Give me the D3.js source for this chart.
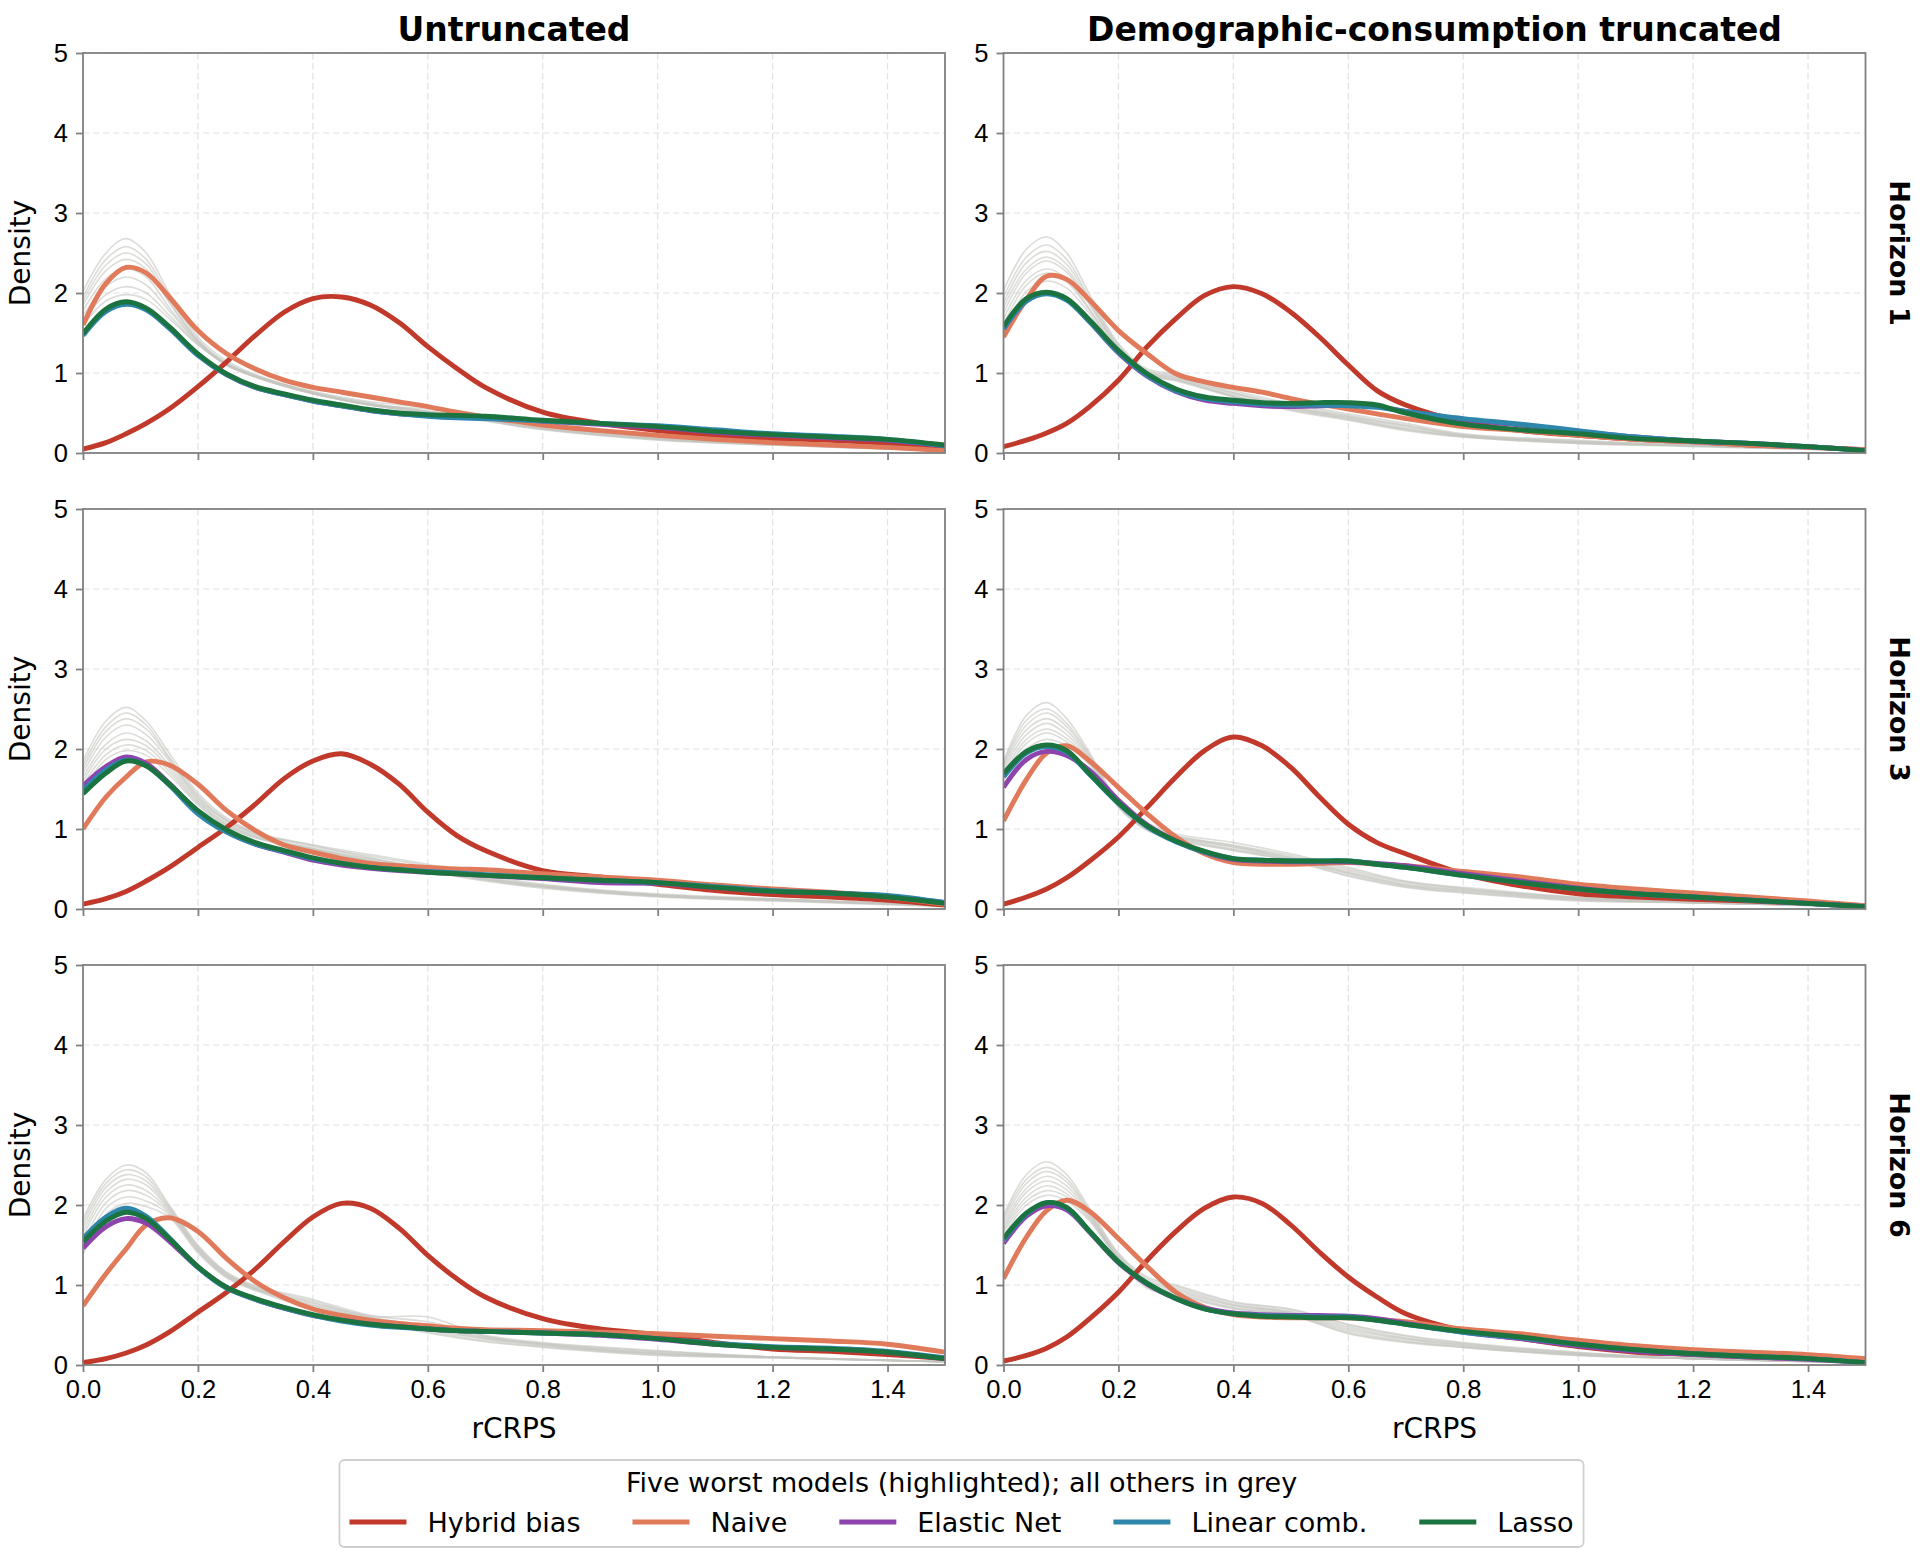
<!DOCTYPE html>
<html>
<head>
<meta charset="utf-8">
<script src="https://cdn.jsdelivr.net/npm/d3@7"></script>
<style>
  body { margin: 0; background: #ffffff; }
  svg { font-family: "DejaVu Sans", sans-serif; }
  .grid line { stroke: #e2e2e2; stroke-width: 1.2; stroke-dasharray: 6.5,3.5; }
  .spine { fill: none; stroke: #808080; stroke-width: 1.8; }
  .tick line { stroke: #808080; stroke-width: 1.8; }
  .tick text { fill: #000000; font-size: 25.5px; }
  .grey { fill: none; stroke: #c4c4c0; stroke-opacity: 0.6; stroke-width: 1.6; }
  .model { fill: none; stroke-width: 4.9; stroke-linejoin: round; stroke-linecap: butt; }
</style>
</head>
<body>
<script>
// column / row labels and legend
var colTitles = ["Untruncated", "Demographic-consumption truncated"];
var rowTitles = ["Horizon 1", "Horizon 3", "Horizon 6"];
var modelNames = ["Hybrid bias", "Naive", "Elastic Net", "Linear comb.", "Lasso"];
var modelColors = ["#c0392b", "#e07a5a", "#8e44ad", "#2e86ab", "#1b7340"];
var legendTitle = "Five worst models (highlighted); all others in grey";
var xTicks = [0, 0.2, 0.4, 0.6, 0.8, 1.0, 1.2, 1.4];
var yTicks = [0, 1, 2, 3, 4, 5];

// rCRPS grid for the highlighted densities
var xGrid = [0, 0.04, 0.075, 0.11, 0.15, 0.2, 0.25, 0.3, 0.35, 0.4, 0.45, 0.5, 0.55, 0.6, 0.65, 0.7, 0.8, 0.9, 1.0, 1.1, 1.2, 1.3, 1.4, 1.5];
// coarser grid for the grey (other) models
var greyGrid = [0, 0.04, 0.075, 0.11, 0.15, 0.2, 0.25, 0.3, 0.4, 0.5, 0.6, 0.7, 0.8, 1.0, 1.2, 1.5];

// --- Untruncated, horizon 1
var u1Hybrid  = [0.05, 0.13, 0.24, 0.37, 0.55, 0.83, 1.14, 1.47, 1.76, 1.93, 1.95, 1.85, 1.63, 1.33, 1.06, 0.82, 0.51, 0.37, 0.28, 0.22, 0.18, 0.16, 0.12, 0.05];
var u1Naive   = [1.60, 2.12, 2.32, 2.25, 1.95, 1.53, 1.24, 1.05, 0.91, 0.82, 0.76, 0.70, 0.64, 0.58, 0.51, 0.45, 0.35, 0.28, 0.22, 0.17, 0.13, 0.10, 0.07, 0.03];
var u1Elastic = [1.48, 1.79, 1.88, 1.80, 1.57, 1.23, 0.98, 0.82, 0.73, 0.65, 0.59, 0.53, 0.49, 0.47, 0.46, 0.45, 0.40, 0.36, 0.32, 0.26, 0.22, 0.19, 0.16, 0.09];
var u1Linear  = [1.47, 1.77, 1.86, 1.79, 1.56, 1.22, 0.98, 0.82, 0.73, 0.65, 0.59, 0.53, 0.49, 0.46, 0.44, 0.43, 0.40, 0.37, 0.34, 0.29, 0.24, 0.21, 0.17, 0.09];
var u1Lasso   = [1.49, 1.80, 1.89, 1.81, 1.58, 1.24, 0.99, 0.83, 0.74, 0.66, 0.60, 0.54, 0.50, 0.48, 0.47, 0.46, 0.41, 0.37, 0.33, 0.27, 0.23, 0.20, 0.17, 0.10];
var u1Grey = [
  [2.02, 2.50, 2.68, 2.50, 2.00, 1.45, 1.15, 0.98, 0.76, 0.62, 0.52, 0.42, 0.31, 0.18, 0.11, 0.03],
  [1.95, 2.42, 2.58, 2.42, 1.95, 1.42, 1.12, 0.96, 0.75, 0.60, 0.55, 0.45, 0.33, 0.20, 0.12, 0.04],
  [1.90, 2.35, 2.50, 2.36, 1.90, 1.40, 1.10, 0.95, 0.74, 0.60, 0.50, 0.40, 0.30, 0.17, 0.10, 0.03],
  [1.85, 2.28, 2.42, 2.30, 1.88, 1.40, 1.12, 0.97, 0.77, 0.64, 0.57, 0.47, 0.34, 0.19, 0.12, 0.04],
  [1.78, 2.18, 2.30, 2.20, 1.82, 1.38, 1.10, 0.95, 0.74, 0.60, 0.50, 0.40, 0.29, 0.16, 0.10, 0.03],
  [1.72, 2.08, 2.20, 2.10, 1.78, 1.38, 1.12, 0.97, 0.76, 0.62, 0.52, 0.42, 0.31, 0.18, 0.11, 0.03],
  [1.66, 1.98, 2.08, 2.00, 1.72, 1.36, 1.10, 0.96, 0.75, 0.60, 0.50, 0.41, 0.30, 0.17, 0.10, 0.03],
  [1.60, 1.90, 1.98, 1.92, 1.68, 1.35, 1.10, 0.95, 0.74, 0.60, 0.52, 0.44, 0.33, 0.19, 0.12, 0.04]
];

// --- Demographic-consumption truncated, horizon 1
var d1Hybrid  = [0.08, 0.16, 0.25, 0.37, 0.58, 0.91, 1.33, 1.68, 1.97, 2.08, 1.99, 1.76, 1.45, 1.10, 0.78, 0.60, 0.39, 0.28, 0.22, 0.17, 0.14, 0.10, 0.075, 0.04];
var d1Naive   = [1.45, 1.92, 2.21, 2.17, 1.91, 1.53, 1.24, 0.99, 0.89, 0.82, 0.76, 0.68, 0.61, 0.55, 0.49, 0.43, 0.33, 0.28, 0.22, 0.17, 0.14, 0.10, 0.075, 0.04];
var d1Elastic = [1.55, 1.90, 2.00, 1.92, 1.64, 1.25, 0.96, 0.77, 0.66, 0.62, 0.59, 0.58, 0.59, 0.60, 0.58, 0.52, 0.42, 0.35, 0.27, 0.20, 0.15, 0.12, 0.08, 0.03];
var d1Linear  = [1.55, 1.90, 1.99, 1.91, 1.64, 1.26, 0.97, 0.78, 0.68, 0.64, 0.61, 0.60, 0.60, 0.59, 0.57, 0.52, 0.43, 0.36, 0.28, 0.20, 0.15, 0.12, 0.08, 0.03];
var d1Lasso   = [1.58, 1.93, 2.01, 1.93, 1.66, 1.28, 0.99, 0.80, 0.70, 0.66, 0.63, 0.62, 0.63, 0.63, 0.60, 0.50, 0.36, 0.29, 0.24, 0.18, 0.15, 0.12, 0.08, 0.03];
var d1Grey = [
  [2.03, 2.55, 2.70, 2.50, 1.98, 1.37, 1.05, 0.99, 0.78, 0.62, 0.49, 0.37, 0.24, 0.16, 0.10, 0.03],
  [1.95, 2.45, 2.60, 2.42, 1.93, 1.35, 1.03, 0.97, 0.76, 0.60, 0.47, 0.35, 0.23, 0.15, 0.10, 0.03],
  [1.88, 2.38, 2.52, 2.36, 1.90, 1.33, 1.02, 0.95, 0.75, 0.58, 0.46, 0.34, 0.22, 0.14, 0.09, 0.03],
  [1.82, 2.30, 2.45, 2.30, 1.87, 1.32, 1.01, 0.94, 0.74, 0.57, 0.45, 0.33, 0.22, 0.14, 0.09, 0.03],
  [1.75, 2.25, 2.40, 2.26, 1.85, 1.30, 1.00, 0.93, 0.72, 0.56, 0.44, 0.31, 0.21, 0.13, 0.09, 0.03],
  [1.68, 2.16, 2.30, 2.18, 1.80, 1.28, 0.99, 0.92, 0.71, 0.55, 0.43, 0.30, 0.21, 0.13, 0.09, 0.03],
  [1.60, 2.10, 2.25, 2.14, 1.78, 1.26, 0.98, 0.91, 0.71, 0.54, 0.42, 0.29, 0.20, 0.12, 0.09, 0.03],
  [1.52, 2.02, 2.15, 2.06, 1.74, 1.24, 0.97, 0.90, 0.70, 0.53, 0.41, 0.28, 0.20, 0.12, 0.08, 0.03]
];

// --- Untruncated, horizon 3
var u3Hybrid  = [0.06, 0.13, 0.22, 0.35, 0.52, 0.77, 1.02, 1.31, 1.63, 1.85, 1.94, 1.81, 1.56, 1.21, 0.92, 0.73, 0.48, 0.40, 0.31, 0.23, 0.18, 0.15, 0.11, 0.05];
var u3Naive   = [1.00, 1.40, 1.65, 1.84, 1.80, 1.56, 1.23, 0.98, 0.80, 0.71, 0.63, 0.57, 0.54, 0.52, 0.50, 0.49, 0.44, 0.40, 0.36, 0.30, 0.25, 0.21, 0.15, 0.06];
var u3Elastic = [1.54, 1.78, 1.90, 1.82, 1.57, 1.22, 0.97, 0.81, 0.71, 0.61, 0.55, 0.51, 0.48, 0.46, 0.44, 0.42, 0.38, 0.33, 0.32, 0.27, 0.22, 0.20, 0.16, 0.08];
var u3Linear  = [1.48, 1.74, 1.86, 1.79, 1.55, 1.19, 0.96, 0.81, 0.72, 0.63, 0.57, 0.52, 0.49, 0.47, 0.45, 0.43, 0.39, 0.36, 0.33, 0.28, 0.23, 0.20, 0.17, 0.08];
var u3Lasso   = [1.44, 1.70, 1.85, 1.79, 1.56, 1.23, 0.99, 0.83, 0.73, 0.64, 0.57, 0.52, 0.49, 0.46, 0.44, 0.42, 0.39, 0.36, 0.33, 0.27, 0.22, 0.20, 0.15, 0.07];
var u3Grey = [
  [1.85, 2.35, 2.52, 2.35, 1.95, 1.45, 1.14, 0.96, 0.80, 0.64, 0.50, 0.37, 0.28, 0.17, 0.12, 0.04],
  [1.80, 2.28, 2.45, 2.30, 1.90, 1.42, 1.12, 0.95, 0.78, 0.66, 0.54, 0.40, 0.30, 0.18, 0.12, 0.04],
  [1.75, 2.22, 2.38, 2.25, 1.88, 1.40, 1.10, 0.93, 0.75, 0.60, 0.47, 0.35, 0.26, 0.15, 0.10, 0.03],
  [1.70, 2.15, 2.30, 2.18, 1.85, 1.38, 1.10, 0.94, 0.80, 0.68, 0.56, 0.42, 0.31, 0.19, 0.13, 0.05],
  [1.65, 2.06, 2.20, 2.10, 1.80, 1.36, 1.07, 0.91, 0.74, 0.60, 0.48, 0.36, 0.27, 0.16, 0.11, 0.04],
  [1.60, 2.00, 2.12, 2.04, 1.76, 1.34, 1.06, 0.91, 0.76, 0.63, 0.51, 0.39, 0.29, 0.17, 0.12, 0.04],
  [1.55, 1.93, 2.05, 1.98, 1.72, 1.32, 1.04, 0.89, 0.73, 0.60, 0.48, 0.37, 0.28, 0.16, 0.11, 0.04],
  [1.50, 1.87, 1.98, 1.92, 1.68, 1.30, 1.03, 0.89, 0.75, 0.62, 0.50, 0.38, 0.29, 0.17, 0.12, 0.04]
];

// --- Demographic-consumption truncated, horizon 3
var d3Hybrid  = [0.06, 0.15, 0.25, 0.39, 0.60, 0.90, 1.27, 1.65, 1.98, 2.15, 2.04, 1.77, 1.40, 1.06, 0.83, 0.69, 0.44, 0.29, 0.19, 0.15, 0.12, 0.10, 0.07, 0.04];
var d3Naive   = [1.10, 1.62, 1.95, 2.04, 1.85, 1.52, 1.19, 0.90, 0.69, 0.58, 0.56, 0.56, 0.57, 0.58, 0.56, 0.54, 0.47, 0.40, 0.31, 0.25, 0.20, 0.15, 0.10, 0.04];
var d3Elastic = [1.52, 1.87, 1.97, 1.92, 1.73, 1.36, 1.05, 0.85, 0.71, 0.62, 0.60, 0.59, 0.59, 0.59, 0.57, 0.54, 0.44, 0.35, 0.26, 0.19, 0.15, 0.11, 0.07, 0.03];
var d3Linear  = [1.65, 1.95, 2.03, 1.96, 1.68, 1.32, 1.03, 0.84, 0.71, 0.63, 0.61, 0.60, 0.60, 0.60, 0.56, 0.52, 0.42, 0.33, 0.25, 0.19, 0.15, 0.11, 0.07, 0.03];
var d3Lasso   = [1.69, 1.97, 2.05, 1.98, 1.69, 1.33, 1.04, 0.85, 0.72, 0.63, 0.61, 0.60, 0.60, 0.60, 0.56, 0.52, 0.42, 0.33, 0.25, 0.19, 0.15, 0.11, 0.07, 0.03];
var d3Grey = [
  [1.85, 2.42, 2.58, 2.38, 1.95, 1.35, 1.08, 0.94, 0.83, 0.69, 0.52, 0.35, 0.27, 0.15, 0.09, 0.03],
  [1.82, 2.36, 2.50, 2.32, 1.92, 1.34, 1.06, 0.92, 0.80, 0.67, 0.50, 0.34, 0.26, 0.14, 0.09, 0.03],
  [1.80, 2.30, 2.45, 2.28, 1.90, 1.32, 1.04, 0.91, 0.79, 0.65, 0.48, 0.33, 0.25, 0.14, 0.08, 0.03],
  [1.77, 2.24, 2.38, 2.23, 1.88, 1.31, 1.03, 0.90, 0.78, 0.64, 0.46, 0.31, 0.24, 0.13, 0.08, 0.03],
  [1.74, 2.18, 2.32, 2.18, 1.86, 1.30, 1.02, 0.89, 0.77, 0.63, 0.45, 0.30, 0.23, 0.12, 0.08, 0.03],
  [1.71, 2.12, 2.25, 2.13, 1.84, 1.29, 1.00, 0.88, 0.75, 0.62, 0.44, 0.29, 0.22, 0.12, 0.08, 0.03],
  [1.68, 2.07, 2.20, 2.09, 1.82, 1.28, 0.99, 0.87, 0.74, 0.61, 0.42, 0.28, 0.21, 0.11, 0.08, 0.03],
  [1.65, 2.00, 2.12, 2.04, 1.80, 1.27, 0.98, 0.86, 0.73, 0.60, 0.41, 0.27, 0.20, 0.10, 0.08, 0.03]
];

// --- Untruncated, horizon 6
var u6Hybrid  = [0.03, 0.08, 0.15, 0.25, 0.41, 0.66, 0.91, 1.20, 1.54, 1.85, 2.02, 1.96, 1.71, 1.37, 1.08, 0.85, 0.58, 0.45, 0.38, 0.28, 0.20, 0.17, 0.13, 0.08];
var u6Naive   = [0.74, 1.14, 1.45, 1.75, 1.84, 1.67, 1.33, 1.04, 0.84, 0.70, 0.62, 0.56, 0.52, 0.49, 0.46, 0.44, 0.43, 0.41, 0.39, 0.36, 0.33, 0.30, 0.26, 0.16];
var u6Elastic = [1.46, 1.73, 1.83, 1.77, 1.55, 1.22, 0.97, 0.82, 0.71, 0.62, 0.56, 0.51, 0.48, 0.45, 0.43, 0.42, 0.40, 0.37, 0.32, 0.26, 0.22, 0.20, 0.16, 0.08];
var u6Linear  = [1.58, 1.85, 1.96, 1.86, 1.59, 1.22, 0.96, 0.82, 0.71, 0.62, 0.55, 0.50, 0.47, 0.45, 0.43, 0.42, 0.40, 0.38, 0.33, 0.27, 0.23, 0.21, 0.17, 0.09];
var u6Lasso   = [1.54, 1.80, 1.91, 1.83, 1.58, 1.23, 0.97, 0.83, 0.72, 0.63, 0.56, 0.51, 0.48, 0.45, 0.43, 0.42, 0.40, 0.38, 0.33, 0.26, 0.22, 0.20, 0.16, 0.08];
var u6Grey = [
  [1.83, 2.32, 2.50, 2.40, 2.00, 1.50, 1.16, 0.99, 0.82, 0.62, 0.54, 0.37, 0.28, 0.18, 0.10, 0.04],
  [1.78, 2.27, 2.44, 2.35, 1.98, 1.48, 1.15, 0.98, 0.80, 0.61, 0.60, 0.36, 0.27, 0.17, 0.10, 0.04],
  [1.72, 2.22, 2.38, 2.30, 1.96, 1.47, 1.14, 0.97, 0.78, 0.60, 0.48, 0.35, 0.26, 0.16, 0.10, 0.04],
  [1.66, 2.16, 2.32, 2.25, 1.94, 1.46, 1.13, 0.96, 0.77, 0.59, 0.47, 0.34, 0.26, 0.15, 0.10, 0.04],
  [1.60, 2.10, 2.25, 2.18, 1.92, 1.44, 1.12, 0.95, 0.75, 0.58, 0.45, 0.33, 0.25, 0.14, 0.10, 0.04],
  [1.53, 2.03, 2.18, 2.12, 1.90, 1.43, 1.11, 0.95, 0.74, 0.57, 0.44, 0.32, 0.24, 0.14, 0.09, 0.04],
  [1.45, 1.96, 2.10, 2.05, 1.88, 1.42, 1.10, 0.94, 0.72, 0.56, 0.42, 0.30, 0.23, 0.13, 0.09, 0.04],
  [1.38, 1.88, 2.02, 1.98, 1.85, 1.40, 1.09, 0.93, 0.70, 0.55, 0.40, 0.29, 0.22, 0.12, 0.09, 0.04]
];

// --- Demographic-consumption truncated, horizon 6
var d6Hybrid  = [0.05, 0.12, 0.21, 0.35, 0.58, 0.91, 1.31, 1.67, 1.96, 2.10, 2.02, 1.75, 1.41, 1.10, 0.85, 0.64, 0.43, 0.33, 0.23, 0.16, 0.13, 0.10, 0.08, 0.04];
var d6Naive   = [1.08, 1.60, 1.93, 2.06, 1.92, 1.58, 1.23, 0.91, 0.72, 0.63, 0.60, 0.59, 0.59, 0.59, 0.57, 0.54, 0.45, 0.39, 0.31, 0.24, 0.19, 0.16, 0.13, 0.08];
var d6Elastic = [1.52, 1.86, 1.99, 1.94, 1.66, 1.28, 1.01, 0.83, 0.71, 0.65, 0.63, 0.62, 0.62, 0.61, 0.58, 0.52, 0.41, 0.33, 0.24, 0.17, 0.13, 0.10, 0.07, 0.03];
var d6Linear  = [1.56, 1.89, 2.03, 1.96, 1.67, 1.29, 1.02, 0.83, 0.70, 0.64, 0.62, 0.61, 0.60, 0.60, 0.56, 0.51, 0.41, 0.34, 0.26, 0.19, 0.14, 0.11, 0.08, 0.03];
var d6Lasso   = [1.58, 1.90, 2.03, 1.97, 1.67, 1.29, 1.02, 0.83, 0.70, 0.64, 0.61, 0.60, 0.59, 0.59, 0.56, 0.51, 0.42, 0.35, 0.26, 0.19, 0.14, 0.11, 0.08, 0.03];
var d6Grey = [
  [1.87, 2.38, 2.54, 2.38, 1.95, 1.40, 1.10, 1.00, 0.79, 0.70, 0.51, 0.37, 0.28, 0.16, 0.08, 0.03],
  [1.84, 2.32, 2.47, 2.33, 1.92, 1.38, 1.08, 0.98, 0.78, 0.69, 0.50, 0.36, 0.27, 0.15, 0.08, 0.03],
  [1.80, 2.27, 2.42, 2.29, 1.90, 1.37, 1.06, 0.96, 0.76, 0.67, 0.48, 0.34, 0.26, 0.15, 0.08, 0.03],
  [1.76, 2.21, 2.36, 2.24, 1.88, 1.35, 1.04, 0.94, 0.75, 0.66, 0.46, 0.33, 0.25, 0.14, 0.08, 0.03],
  [1.72, 2.16, 2.30, 2.19, 1.86, 1.34, 1.02, 0.92, 0.74, 0.65, 0.44, 0.32, 0.24, 0.13, 0.08, 0.03],
  [1.69, 2.10, 2.24, 2.14, 1.84, 1.33, 1.00, 0.90, 0.72, 0.64, 0.42, 0.30, 0.23, 0.13, 0.08, 0.03],
  [1.66, 2.05, 2.18, 2.10, 1.82, 1.32, 0.98, 0.89, 0.71, 0.63, 0.40, 0.29, 0.22, 0.12, 0.08, 0.03],
  [1.62, 2.00, 2.12, 2.05, 1.80, 1.31, 0.96, 0.87, 0.70, 0.62, 0.39, 0.28, 0.22, 0.12, 0.08, 0.03]
];

var panels = [
  {row: 0, col: 0, grey: u1Grey, models: [u1Hybrid, u1Naive, u1Elastic, u1Linear, u1Lasso]},
  {row: 0, col: 1, grey: d1Grey, models: [d1Hybrid, d1Naive, d1Elastic, d1Linear, d1Lasso]},
  {row: 1, col: 0, grey: u3Grey, models: [u3Hybrid, u3Naive, u3Elastic, u3Linear, u3Lasso]},
  {row: 1, col: 1, grey: d3Grey, models: [d3Hybrid, d3Naive, d3Elastic, d3Linear, d3Lasso]},
  {row: 2, col: 0, grey: u6Grey, models: [u6Hybrid, u6Naive, u6Elastic, u6Linear, u6Lasso]},
  {row: 2, col: 1, grey: d6Grey, models: [d6Hybrid, d6Naive, d6Elastic, d6Linear, d6Lasso]}
];

var W = 1923, H = 1561;
var colLeft = [83, 1003.5], rowTop = [53, 509, 965];
var pw = 862, ph = 400;

var svg = d3.select("body").append("svg")
  .attr("width", W).attr("height", H);

var x = d3.scaleLinear().domain([0, 1.5]).range([0, pw]);
var y = d3.scaleLinear().domain([0, 5]).range([ph, 0]);

function lineOn(grid) {
  return d3.line()
    .curve(d3.curveCatmullRom.alpha(0.5))
    .x(function(d, i) { return x(grid[i]); })
    .y(function(d) { return y(d); });
}
var modelLine = lineOn(xGrid);
var greyLine = lineOn(greyGrid);

panels.forEach(function(p, k) {
  var g = svg.append("g")
    .attr("transform", "translate(" + colLeft[p.col] + "," + rowTop[p.row] + ")");

  g.append("clipPath").attr("id", "clip" + k)
    .append("rect").attr("width", pw).attr("height", ph);

  // gridlines
  g.append("g").attr("class", "grid")
    .selectAll("line").data(xTicks.slice(1)).enter().append("line")
    .attr("x1", function(d) { return x(d); }).attr("x2", function(d) { return x(d); })
    .attr("y1", 0).attr("y2", ph);
  g.append("g").attr("class", "grid")
    .selectAll("line").data(yTicks.slice(1)).enter().append("line")
    .attr("x1", 0).attr("x2", pw)
    .attr("y1", function(d) { return y(d); }).attr("y2", function(d) { return y(d); });

  var plot = g.append("g").attr("clip-path", "url(#clip" + k + ")");

  // all other models in grey
  plot.selectAll(".grey").data(p.grey).enter().append("path")
    .attr("class", "grey")
    .attr("d", greyLine);

  // five highlighted models
  plot.selectAll(".model").data(p.models).enter().append("path")
    .attr("class", "model")
    .attr("stroke", function(d, i) { return modelColors[i]; })
    .attr("d", modelLine);

  // axes
  var xAxis = d3.axisBottom(x).tickValues(xTicks).tickSize(7).tickPadding(8)
    .tickFormat(p.row === 2 ? d3.format(".1f") : "");
  g.append("g").attr("transform", "translate(0," + ph + ")").call(xAxis)
    .call(function(a) { a.select(".domain").remove(); });

  var yAxis = d3.axisLeft(y).tickValues(yTicks).tickSize(7).tickPadding(8)
    .tickFormat(d3.format("d"));
  g.append("g").call(yAxis)
    .call(function(a) { a.select(".domain").remove(); });

  g.append("rect").attr("class", "spine")
    .attr("width", pw).attr("height", ph);

  if (p.col === 0) {
    g.append("text")
      .attr("transform", "translate(-53," + (ph / 2) + ") rotate(-90)")
      .attr("text-anchor", "middle")
      .attr("font-size", 28)
      .text("Density");
  }
  if (p.row === 2) {
    g.append("text")
      .attr("x", pw / 2).attr("y", ph + 73)
      .attr("text-anchor", "middle")
      .attr("font-size", 28)
      .text("rCRPS");
  }
  if (p.row === 0) {
    g.append("text")
      .attr("x", pw / 2).attr("y", -12)
      .attr("text-anchor", "middle")
      .attr("font-size", 33).attr("font-weight", "bold")
      .text(colTitles[p.col]);
  }
  if (p.col === 1) {
    g.append("text")
      .attr("transform", "translate(" + (pw + 24) + "," + (ph / 2) + ") rotate(90)")
      .attr("text-anchor", "middle")
      .attr("font-size", 27).attr("font-weight", "bold")
      .text(rowTitles[p.row]);
  }
});

// legend
var lg = svg.append("g");
var box = lg.append("rect")
  .attr("fill", "#ffffff").attr("stroke", "#cfcfcf").attr("stroke-width", 1.8)
  .attr("rx", 5);
lg.append("text")
  .attr("x", W / 2).attr("y", 1482)
  .attr("text-anchor", "middle").attr("dominant-baseline", "central")
  .attr("font-size", 27)
  .text(legendTitle);

var handleLen = 57, handlePad = 21, colSpace = 52, entryY = 1522;
var entries = lg.selectAll(".entry").data(modelNames).enter().append("g").attr("class", "entry");
entries.append("line")
  .attr("x1", 0).attr("x2", handleLen).attr("y1", entryY).attr("y2", entryY)
  .attr("stroke", function(d, i) { return modelColors[i]; })
  .attr("stroke-width", 4.9);
entries.append("text")
  .attr("x", handleLen + handlePad).attr("y", entryY)
  .attr("dominant-baseline", "central")
  .attr("font-size", 27)
  .text(function(d) { return d; });

var widths = [];
entries.each(function() { widths.push(this.getBBox().width); });
var total = d3.sum(widths) + colSpace * (widths.length - 1);
var cx = W / 2 - total / 2;
entries.attr("transform", function(d, i) {
  var off = cx;
  for (var j = 0; j < i; j++) off += widths[j] + colSpace;
  return "translate(" + off + ",0)";
});
box.attr("x", cx - 10).attr("y", 1460).attr("width", total + 20).attr("height", 87);
</script>
</body>
</html>
